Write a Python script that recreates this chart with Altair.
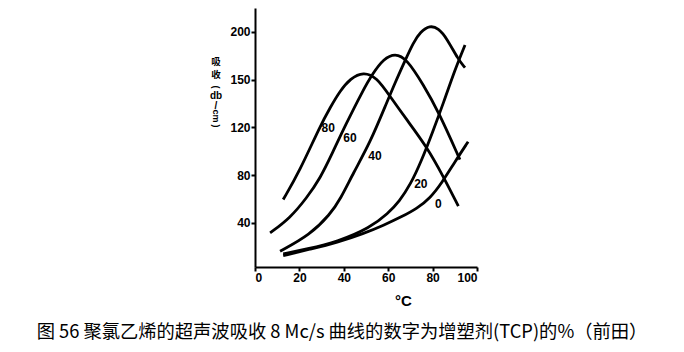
import altair as alt
import pandas as pd

# curve data (x: °C, y: absorption db/cm)
x80 = [12.7, 20.0, 29.3, 34.0, 38.3, 43.0, 48.8, 54.8, 60.8, 68.3, 77.3, 84.8, 91.6]
y80 = [59.5, 83.0, 121.0, 137.0, 150.5, 161.0, 166.5, 162.0, 146.0, 126.5, 104.0, 79.0, 54.0]

x60 = [6.8, 15.8, 23.3, 29.3, 35.0, 40.5, 48.8, 53.0, 58.0, 63.1, 68.3, 75.8, 82.6, 92.3]
y60 = [31.6, 44.0, 61.0, 77.0, 99.0, 121.0, 151.6, 165.0, 177.5, 182.0, 177.5, 155.8, 133.4, 93.0]

x40 = [11.3, 24.8, 33.8, 38.5, 44.3, 51.8, 59.3, 63.0, 67.6, 71.3, 74.5, 78.8, 82.6, 86.3, 91.6, 94.6]
y40 = [16.2, 30.0, 47.0, 60.0, 81.8, 107.0, 140.5, 157.0, 176.0, 191.0, 200.0, 205.5, 203.0, 195.0, 176.7, 170.0]

x20 = [12.7, 23.3, 37.0, 51.8, 60.0, 65.0, 70.0, 75.0, 80.0, 85.0, 90.0, 94.6]
y20 = [14.0, 18.0, 24.0, 35.8, 48.0, 58.0, 72.0, 92.0, 116.0, 141.0, 168.0, 189.0]

x0 = [12.7, 25.0, 37.0, 49.0, 58.0, 66.0, 73.0, 79.0, 84.0, 90.0, 96.0]
y0 = [12.5, 18.0, 23.5, 31.0, 38.0, 45.0, 52.0, 61.0, 73.0, 91.0, 108.0]

series_names = ["80", "60", "40", "20", "0"]
label_x = [33.0, 42.8, 54.0, 74.7, 82.6]
label_y = [119.5, 111.0, 95.7, 72.6, 56.0]

x_ticks = [0, 20, 40, 60, 80, 100]
y_ticks = [40, 80, 120, 160, 200]
y_tick_text = ["40", "80", "120", "150", "200"]

caption = "图 56 聚氯乙烯的超声波吸收 8 Mc/s 曲线的数字为增塑剂(TCP)的%（前田）"

rows = []
for name, xs_, ys_ in zip(series_names, [x80, x60, x40, x20, x0], [y80, y60, y40, y20, y0]):
    for i, (a, b) in enumerate(zip(xs_, ys_)):
        rows.append({"series": name, "t": a, "v": b, "order": i})
df = pd.DataFrame(rows)
labels_df = pd.DataFrame({"name": series_names, "t": label_x, "v": label_y})

label_expr = "{" + ",".join(f"'{v}':'{t}'" for v, t in zip(y_ticks, y_tick_text)) + "}[datum.value]"

xs = alt.Scale(domain=[0, 100], nice=False, zero=False)
ys = alt.Scale(domain=[3, 220], nice=False, zero=False)

lines = alt.Chart(df).mark_line(color="black", strokeWidth=2.8, interpolate="basis").encode(
    x=alt.X("t:Q", scale=xs, axis=alt.Axis(
        values=x_ticks, title="°C", grid=False, labelFont="Liberation Sans", labelFontWeight="bold",
        labelFontSize=12, labelColor="black", tickSize=4, tickWidth=2, tickColor="black",
        domainColor="black", domainWidth=2, labelPadding=1,
        titleFont="Liberation Sans", titleFontSize=15, titleFontWeight="bold", titleColor="black",
        titleX=148, titleY=33, titleAnchor="middle", titleBaseline="middle")),
    y=alt.Y("v:Q", scale=ys, axis=alt.Axis(
        values=y_ticks, labelExpr=label_expr, title=None, grid=False,
        labelFont="Liberation Sans", labelFontWeight="bold", labelFontSize=12, labelColor="black",
        tickSize=4, tickWidth=2, tickColor="black", domainColor="black", domainWidth=2, labelPadding=1)),
    detail="series:N",
    order="order:Q",
)

curve_labels = alt.Chart(labels_df).mark_text(
    font="Liberation Sans", fontWeight="bold", fontSize=12, color="black"
).encode(x=alt.X("t:Q", scale=xs), y=alt.Y("v:Q", scale=ys), text="name:N")


def tmark(s, x, y, size=10, angle=0, font="Liberation Sans"):
    return alt.Chart(pd.DataFrame({"s": [s]})).mark_text(
        font=font, fontWeight="bold", fontSize=size, color="black", angle=angle
    ).encode(x=alt.value(x), y=alt.value(y), text="s:N")


ytitle = [
    tmark("吸", -39, 54, 9.5, 0, "Noto Sans CJK SC"),
    tmark("收", -39, 67, 9.5, 0, "Noto Sans CJK SC"),
    tmark("(", -39, 79, 9, 90),
    tmark("db", -39, 88, 10, 0),
    tmark("/", -39, 98, 10, 0),
    tmark("cm", -39, 108, 9, 90),
    tmark(")", -39, 118, 9, 90),
]

cap = alt.Chart(pd.DataFrame({"s": [caption]})).mark_text(
    font="Noto Sans CJK SC", fontSize=18.3, color="black"
).encode(x=alt.value(87), y=alt.value(325), text="s:N")

chart = alt.layer(lines, curve_labels, *ytitle, cap).properties(
    width=222, height=259,
    autosize=alt.AutoSizeParams(type="none"),
    padding={"left": 255, "top": 8, "right": 207, "bottom": 85},
    background="white",
).configure_view(stroke=None)

chart.save("out.html", embed_options={"renderer": "svg", "actions": False})
